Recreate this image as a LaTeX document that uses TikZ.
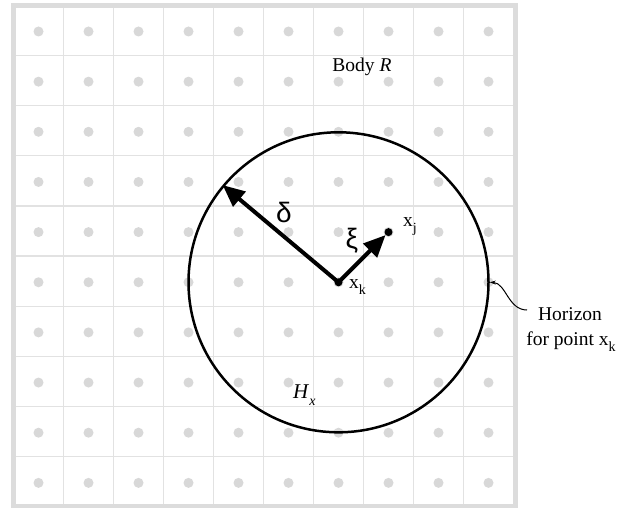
\documentclass[tikz,border=0pt]{standalone}
\usepackage{fontspec}
\setmainfont{Liberation Serif}
\newfontfamily\greekfont{Liberation Sans}
\usetikzlibrary{arrows.meta}
\definecolor{gridgray}{HTML}{E2E2E2}
\definecolor{bordergray}{HTML}{DCDCDC}
\definecolor{dotgray}{HTML}{D8D8D8}
\tikzset{
  gridline/.style={draw=gridgray, line width=1.2pt},
  borderline/.style={draw=bordergray, line width=5pt},
  griddot/.style={circle, fill=dotgray, inner sep=0pt, minimum size=10pt},
  pointdot/.style={circle, fill=black, inner sep=0pt, minimum size=8pt},
  vec/.style={line width=4pt, -{Triangle[length=22pt,width=19pt]}},
  pointer/.style={line width=1pt, -{Stealth[length=6pt,width=4pt]}},
  lbl/.style={font=\fontsize{19.5}{25}\selectfont, inner sep=0pt},
  greek/.style={font=\greekfont\fontsize{28}{30}\selectfont, inner sep=0pt},
}
\newcommand{\lowsub}[1]{\raisebox{-0.35em}{\fontsize{14}{14}\selectfont #1}}
\begin{document}
\begin{tikzpicture}[x=1pt,y=-1pt]
\useasboundingbox (0,0) rectangle (618,508);
\fill[white] (0,0) rectangle (618,508);
% grid lines
\foreach \i in {1,...,9} {
  \draw[gridline] (13.5+50*\i,5.5) -- (13.5+50*\i,506);
  \draw[gridline] (13.5,5.5+50.1*\i) -- (515,5.5+50.1*\i);
}
% grid dots
\foreach \i in {0,...,9} {
  \foreach \j in {0,...,9} {
    \node[griddot] (d\i-\j) at (38.5+50*\i,31.5+50.15*\j) {};
  }
}
% border
\draw[borderline] (13.5,5.5) rectangle (515.5,506.5);
% points
\node[pointdot] (xk) at (338.5,282.3) {};
\node[pointdot] (xj) at (388.5,232.1) {};
% horizon circle
\node[circle, draw=black, line width=2.5pt, minimum size=300pt, inner sep=0pt] (H) at (338.5,282.3) {};
% vectors
\draw[vec] (xk.center) -- (H.140);
\draw[vec] (xk.center) -- (xj);
% labels
\node[greek] (delta) at (284,212) {δ};
\node[greek] (xi) at (352,241) {ξ};
\node[lbl, anchor=base west] (xklbl) at (349,288) {x\lowsub{k}};
\node[lbl, anchor=base west] (xjlbl) at (403,226) {x\lowsub{j}};
\node[lbl, anchor=base west] (Hx) at (293,398) {\fontsize{21}{25}\selectfont\textit{H}\lowsub{\textit{x}}};
\node[lbl, anchor=base] (body) at (362,72) {Body \textit{R}};
\node[lbl, anchor=base] (hz1) at (570,320) {Horizon};
\node[lbl, anchor=base] (hz2) at (571,345) {for point x\lowsub{k}};
\coordinate (hzc) at (527,310);
\draw[pointer] (hzc) .. controls (508,310) and (506,283) .. (H.east);
\end{tikzpicture}
\end{document}
